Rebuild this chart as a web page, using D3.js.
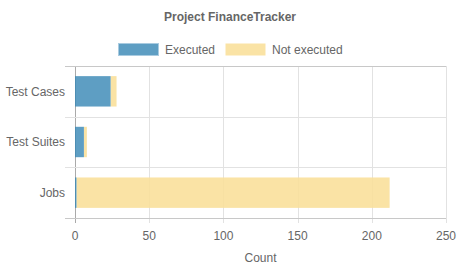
<!DOCTYPE html>
<html>
<head>
<meta charset="utf-8">
<script src="https://cdn.jsdelivr.net/npm/d3@7"></script>
<style>
  body { margin: 0; background: #fff; }
  text { font-family: "Liberation Sans", Arial, sans-serif; fill: #666; }
</style>
</head>
<body>
<svg id="chart"></svg>
<script>
var categories = ["Test Cases", "Test Suites", "Jobs"],
    executed = [24, 6, 1],
    notExecuted = [4, 2, 211],
    xTicks = [0, 50, 100, 150, 200, 250];

var width = 460,
    height = 271,
    margin = {top: 66, right: 14, bottom: 53, left: 75};

var colExec = "rgba(54,134,180,0.8)",
    colExecLine = "#a9cbe0",
    colNot = "rgba(249,224,155,0.9)";

var svg = d3.select("#chart")
    .attr("width", width)
    .attr("height", height);

var x = d3.scaleLinear()
    .domain([0, 250])
    .range([margin.left, width - margin.right]);

var y = d3.scaleBand()
    .domain(categories)
    .range([margin.top, height - margin.bottom]);

var barH = y.bandwidth() * 0.6;

// grid
svg.selectAll(".vgrid").data(xTicks).enter().append("line")
    .attr("x1", d => Math.round(x(d)) + 0.5)
    .attr("x2", d => Math.round(x(d)) + 0.5)
    .attr("y1", margin.top)
    .attr("y2", height - margin.bottom + 5)
    .attr("stroke", d => d === 0 ? "#aaa" : "#e2e2e2");

var hLines = categories.map(c => y(c)).concat([height - margin.bottom]);
svg.selectAll(".hgrid").data(hLines).enter().append("line")
    .attr("x1", margin.left - 10)
    .attr("x2", width - margin.right)
    .attr("y1", d => Math.round(d) + 0.5)
    .attr("y2", d => Math.round(d) + 0.5)
    .attr("stroke", (d, i) => (i === 0 || i === hLines.length - 1) ? "#c8c8c8" : "#e2e2e2");

// bars
var rows = categories.map((c, i) => ({cat: c, ex: executed[i], ne: notExecuted[i]}));

svg.selectAll(".ne").data(rows).enter().append("rect")
    .attr("x", d => x(d.ex))
    .attr("y", d => y(d.cat) + (y.bandwidth() - barH) / 2)
    .attr("width", d => x(d.ex + d.ne) - x(d.ex))
    .attr("height", barH)
    .attr("fill", colNot);

svg.selectAll(".ex").data(rows).enter().append("rect")
    .attr("x", x(0))
    .attr("y", d => y(d.cat) + (y.bandwidth() - barH) / 2)
    .attr("width", d => x(d.ex) - x(0))
    .attr("height", barH)
    .attr("fill", colExec);

// axis labels
svg.selectAll(".ylab").data(categories).enter().append("text")
    .attr("x", margin.left - 10)
    .attr("y", d => y(d) + y.bandwidth() / 2)
    .attr("dy", "0.35em")
    .attr("text-anchor", "end")
    .attr("font-size", 12)
    .text(d => d);

svg.selectAll(".xlab").data(xTicks).enter().append("text")
    .attr("x", d => x(d))
    .attr("y", height - margin.bottom + 22)
    .attr("text-anchor", "middle")
    .attr("font-size", 12)
    .text(d => d);

svg.append("text")
    .attr("x", (margin.left + width - margin.right) / 2)
    .attr("y", 262)
    .attr("text-anchor", "middle")
    .attr("font-size", 12)
    .text("Count");

// title
svg.append("text")
    .attr("x", width / 2)
    .attr("y", 21)
    .attr("text-anchor", "middle")
    .attr("font-size", 12)
    .attr("font-weight", "bold")
    .text("Project FinanceTracker");

// legend
var legend = [
  {label: "Executed", fill: colExec, stroke: colExecLine, x: 118},
  {label: "Not executed", fill: colNot, stroke: "none", x: 225}
];
var lg = svg.selectAll(".lg").data(legend).enter().append("g")
    .attr("transform", d => "translate(" + d.x + ",43)");
lg.append("rect")
    .attr("x", 0.5).attr("y", 0.5)
    .attr("width", 40).attr("height", 12)
    .attr("fill", d => d.fill)
    .attr("stroke", d => d.stroke);
lg.append("text")
    .attr("x", 47)
    .attr("y", 6.5)
    .attr("dy", "0.35em")
    .attr("font-size", 12)
    .text(d => d.label);
</script>
</body>
</html>
